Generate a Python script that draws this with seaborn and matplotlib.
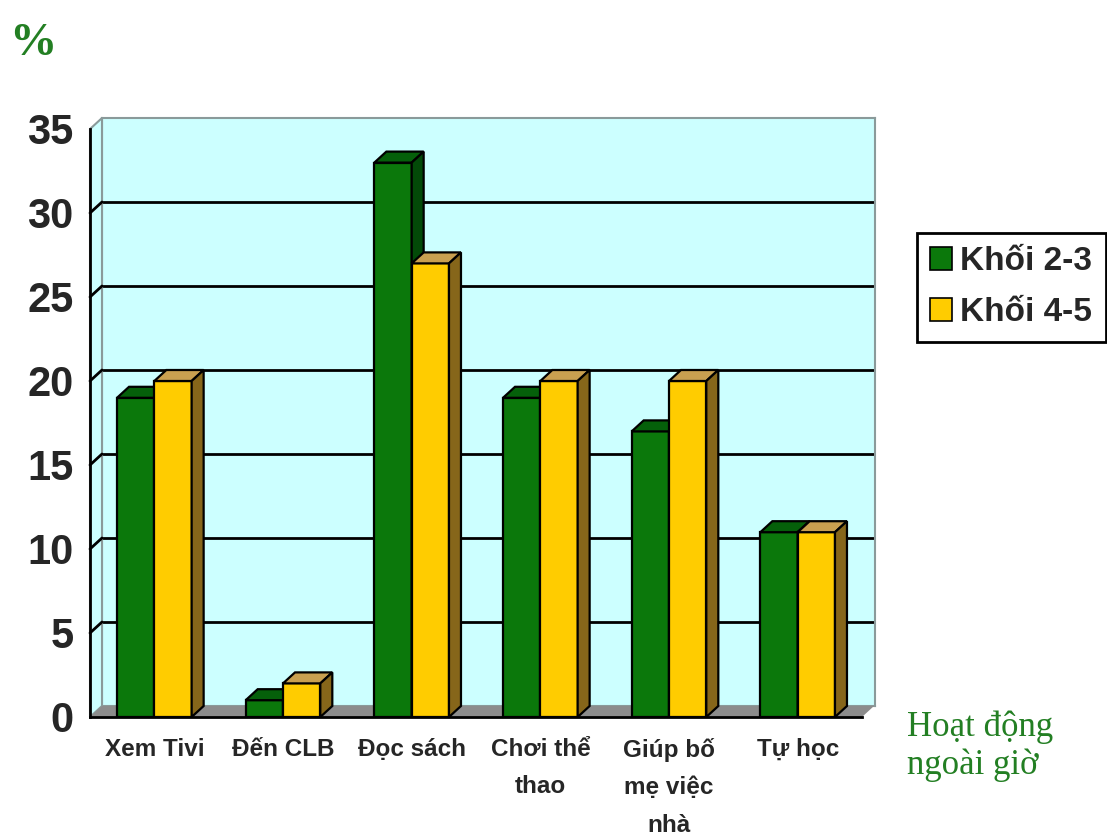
import numpy as np
import pandas as pd
import matplotlib
matplotlib.use("Agg")
import matplotlib.pyplot as plt
from matplotlib.patches import Polygon, Patch
from matplotlib.colors import same_color
import seaborn as sns

# ---- data -------------------------------------------------------------
categories = ["Xem Tivi", "Đến CLB", "Đọc sách", "Chơi thể thao",
              "Giúp bố mẹ việc nhà", "Tự học"]
tick_labels = ["Xem Tivi", "Đến CLB", "Đọc sách", "Chơi thể\nthao",
               "Giúp bố\nmẹ việc\nnhà", "Tự học"]
groups = ["Khối 2-3", "Khối 4-5"]
khoi_23 = [19, 1, 33, 19, 17, 11]
khoi_45 = [20, 2, 27, 20, 20, 11]
y_ticks = [0, 5, 10, 15, 20, 25, 30, 35]

df = pd.DataFrame({
    "activity": categories * 2,
    "pct": khoi_23 + khoi_45,
    "grade": [groups[0]] * len(categories) + [groups[1]] * len(categories),
})

# ---- style ------------------------------------------------------------
sns.set_style("white")
plt.rcParams["font.family"] = ["Liberation Sans", "DejaVu Sans"]

FACE = {groups[0]: "#0B780B", groups[1]: "#FFCC00"}
TOP = {groups[0]: "#05600A", groups[1]: "#C9A050"}
SIDE = {groups[0]: "#034A08", groups[1]: "#86661A"}
WALL = "#CCFFFF"
FLOOR = "#8C8C8C"
EDGE_GRAY = "#8A9A9A"
TEXT_GREEN = "#237F23"

W, H = 1107, 836
fig = plt.figure(figsize=(W / 100, H / 100), dpi=100)
fig.patch.set_facecolor("white")


def px_axes(left, top, right, bottom):
    return fig.add_axes([left / W, 1 - bottom / H, (right - left) / W, (bottom - top) / H])


n = len(categories)
back = px_axes(102, 118, 875, 706)     # back wall with the grid
front = px_axes(90, 129, 862, 717)     # front plane with bars and axes

# depth of the pseudo-3D projection, in data units of the front axes
dx = 12 / (772 / n)
dy = 11 / (588 / 35)

# ---- back wall ----------------------------------------------------------
back.set_xlim(-0.5, n - 0.5)
back.set_ylim(0, 35)
back.set_facecolor(WALL)
back.set_yticks(y_ticks[1:-1])
back.set_xticks([])
back.yaxis.grid(True, color="black", linewidth=2)
back.tick_params(left=False, labelleft=False, bottom=False, labelbottom=False)
for s in back.spines.values():
    s.set_color(EDGE_GRAY)
    s.set_linewidth(1.5)

# ---- bars ---------------------------------------------------------------
front.patch.set_visible(False)
sns.barplot(data=df, x="activity", y="pct", hue="grade", order=categories,
            hue_order=groups, palette=[FACE[g] for g in groups], saturation=1,
            width=0.58, gap=0, errorbar=None, edgecolor="black", linewidth=1.6,
            legend=False, ax=front)
front.set_xlim(-0.5, n - 0.5)
front.set_ylim(0, 35)

for bar in list(front.patches):
    grade = groups[0] if same_color(bar.get_facecolor(), FACE[groups[0]]) else groups[1]
    z = 2 if grade == groups[0] else 3
    bar.set_zorder(z)
    x0, w, h = bar.get_x(), bar.get_width(), bar.get_height()
    x1 = x0 + w
    top = Polygon([(x0, h), (x1, h), (x1 + dx, h + dy), (x0 + dx, h + dy)],
                  closed=True, facecolor=TOP[grade], edgecolor="black",
                  linewidth=1.6, zorder=z + 0.1, clip_on=False)
    side = Polygon([(x1, 0), (x1, h), (x1 + dx, h + dy), (x1 + dx, dy)],
                   closed=True, facecolor=SIDE[grade], edgecolor="black",
                   linewidth=1.6, zorder=z + 0.1, clip_on=False)
    front.add_patch(top)
    front.add_patch(side)

# floor and left wall
x_lo, x_hi = -0.5, n - 0.5
front.add_patch(Polygon([(x_lo, 0), (x_hi, 0), (x_hi + dx, dy), (x_lo + dx, dy)],
                        closed=True, facecolor=FLOOR, edgecolor="none",
                        zorder=0.5, clip_on=False))
front.add_patch(Polygon([(x_lo, 0), (x_lo, 35), (x_lo + dx, 35 + dy), (x_lo + dx, dy)],
                        closed=True, facecolor=WALL, edgecolor=EDGE_GRAY,
                        linewidth=1.5, zorder=0.4, clip_on=False))
for v in y_ticks[1:-1]:
    front.plot([x_lo, x_lo + dx], [v, v + dy], color="black", linewidth=2,
               zorder=0.6, clip_on=False)

# ---- axes, ticks, labels ------------------------------------------------
front.set_xlabel("")
front.set_ylabel("")
for side_name in ("top", "right"):
    front.spines[side_name].set_visible(False)
for side_name in ("left", "bottom"):
    front.spines[side_name].set_color("black")
    front.spines[side_name].set_linewidth(2)
    front.spines[side_name].set_zorder(5)

front.set_yticks(y_ticks)
front.set_yticklabels([str(v) for v in y_ticks], fontsize=30, fontweight="bold")
front.tick_params(axis="y", direction="out", length=8, width=2, pad=4, color="black")

front.set_xticks(range(n))
front.set_xticklabels(tick_labels, fontsize=17.5, fontweight="bold", linespacing=1.8)
front.set_xticks(np.arange(-0.5, n, 1), minor=True)
front.tick_params(axis="x", which="major", length=0, pad=15)
front.tick_params(axis="x", which="minor", direction="out", length=11, width=2,
                  color="black")

# legend
handles = [Patch(facecolor=FACE[g], edgecolor="black", linewidth=1.2) for g in groups]
leg = fig.legend(handles, groups, loc="upper left",
                 bbox_to_anchor=(917 / W, 1 - 233 / H), borderaxespad=0,
                 prop={"family": ["Liberation Sans", "DejaVu Sans"],
                       "weight": "bold", "size": 24},
                 frameon=True, fancybox=False, edgecolor="black", framealpha=1,
                 handlelength=0.65, handleheight=0.65, handletextpad=0.25,
                 borderpad=0.4, labelspacing=0.6)
leg.get_frame().set_linewidth(2)

# unit and category captions
fig.text(9 / W, 1 - 55 / H, "%", color=TEXT_GREEN, fontsize=34,
         family=["Liberation Serif", "DejaVu Serif"], fontweight="bold",
         va="baseline", ha="left")
fig.text(907 / W, 1 - 711 / H, "Hoạt động\nngoài giờ", color=TEXT_GREEN,
         fontsize=25, family=["Liberation Serif", "DejaVu Serif"],
         va="top", ha="left", linespacing=1.15)

fig.savefig("out.png", dpi=100, facecolor="white")
